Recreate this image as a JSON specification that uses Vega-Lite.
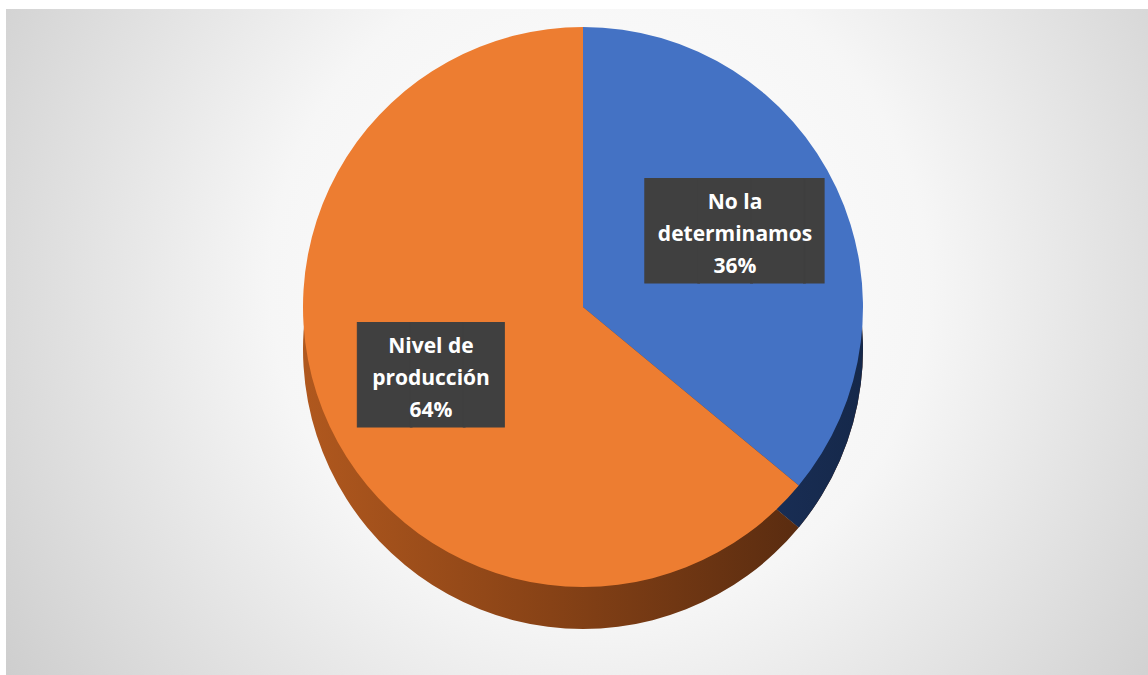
{
  "$schema": "https://vega.github.io/schema/vega-lite/v6.json",
  "width": 1148,
  "height": 675,
  "autosize": {"type": "fit", "contains": "padding"},
  "padding": {"left": 6, "top": 9, "right": 0, "bottom": 0},
  "background": "#ffffff",
  "config": {"view": {"stroke": null}},
  "datasets": {
    "slices": [
      {"categoria": "No la determinamos", "valor": 36, "orden": 1, "etiqueta": "No la\ndeterminamos\n36%"},
      {"categoria": "Nivel de producción", "valor": 64, "orden": 2, "etiqueta": "Nivel de\nproducción\n64%"}
    ]
  },
  "layer": [
    {
      "data": {"values": [{}]},
      "mark": {
        "type": "rect",
        "color": {
          "gradient": "radial",
          "x1": 0.52, "y1": 0.45, "x2": 0.52, "y2": 0.45,
          "r1": 0, "r2": 0.72,
          "stops": [
            {"offset": 0, "color": "#ffffff"},
            {"offset": 0.4, "color": "#f6f6f6"},
            {"offset": 1, "color": "#c2c2c2"}
          ]
        }
      },
      "encoding": {}
    },
    {
      "data": {"name": "slices"},
      "mark": {
        "type": "arc", "outerRadius": 280, "xOffset": 6, "yOffset": 7,
        "color": {"gradient": "linear", "x1": 0, "y1": 0, "x2": 1, "y2": 0,
          "stops": [{"offset": 0, "color": "#b0581e"}, {"offset": 0.5, "color": "#874216"}, {"offset": 1, "color": "#5a2c10"}]}
      },
      "encoding": {
        "theta": {"field": "valor", "type": "quantitative", "stack": true},
        "order": {"field": "orden"}
      }
    },
    {
      "data": {"name": "slices"},
      "mark": {
        "type": "arc", "outerRadius": 280, "xOffset": 6, "yOffset": 7,
        "color": {"gradient": "linear", "x1": 0, "y1": 0, "x2": 1, "y2": 0,
          "stops": [{"offset": 0, "color": "#21396a"}, {"offset": 1, "color": "#15284a"}]}
      },
      "encoding": {
        "theta": {"field": "valor", "type": "quantitative", "stack": true},
        "order": {"field": "orden"},
        "opacity": {"condition": {"test": "datum.categoria === 'No la determinamos'", "value": 1}, "value": 0}
      }
    },
    {
      "data": {"name": "slices"},
      "mark": {"type": "arc", "outerRadius": 280, "xOffset": 6, "yOffset": -35},
      "encoding": {
        "theta": {"field": "valor", "type": "quantitative", "stack": true},
        "order": {"field": "orden"},
        "color": {
          "field": "categoria", "type": "nominal",
          "scale": {"domain": ["No la determinamos", "Nivel de producción"], "range": ["#4472c4", "#ed7d31"]},
          "legend": null
        }
      }
    },
    {
      "data": {"name": "slices"},
      "mark": {
        "type": "text", "radius": 168, "xOffset": 6, "yOffset": -35, "dx": 16.6, "dy": 0,
        "font": "DejaVu Sans Mono", "fontSize": 88,
        "align": "center", "baseline": "middle",
        "fill": "#404040", "stroke": "#404040", "strokeWidth": 1
      },
      "encoding": {
        "theta": {"field": "valor", "type": "quantitative", "stack": true},
        "order": {"field": "orden"},
        "text": {"condition": {"test": "datum.categoria === 'No la determinamos'", "value": "███▍"}, "value": ""}
      }
    },
    {
      "data": {"name": "slices"},
      "mark": {
        "type": "text", "radius": 168, "xOffset": 6, "yOffset": -35, "dx": 6.7, "dy": 0,
        "font": "DejaVu Sans Mono", "fontSize": 88,
        "align": "center", "baseline": "middle",
        "fill": "#404040", "stroke": "#404040", "strokeWidth": 1
      },
      "encoding": {
        "theta": {"field": "valor", "type": "quantitative", "stack": true},
        "order": {"field": "orden"},
        "text": {"condition": {"test": "datum.categoria === 'Nivel de producción'", "value": "██▊"}, "value": ""}
      }
    },
    {
      "data": {"name": "slices"},
      "mark": {
        "type": "text", "radius": 168, "xOffset": 6, "yOffset": -35, "dy": -32,
        "font": "Open Sans", "fontWeight": "bold", "fontSize": 21, "lineHeight": 32, "lineBreak": "\n",
        "align": "center", "baseline": "middle", "fill": "#ffffff"
      },
      "encoding": {
        "theta": {"field": "valor", "type": "quantitative", "stack": true},
        "order": {"field": "orden"},
        "text": {"field": "etiqueta"}
      }
    }
  ]
}
